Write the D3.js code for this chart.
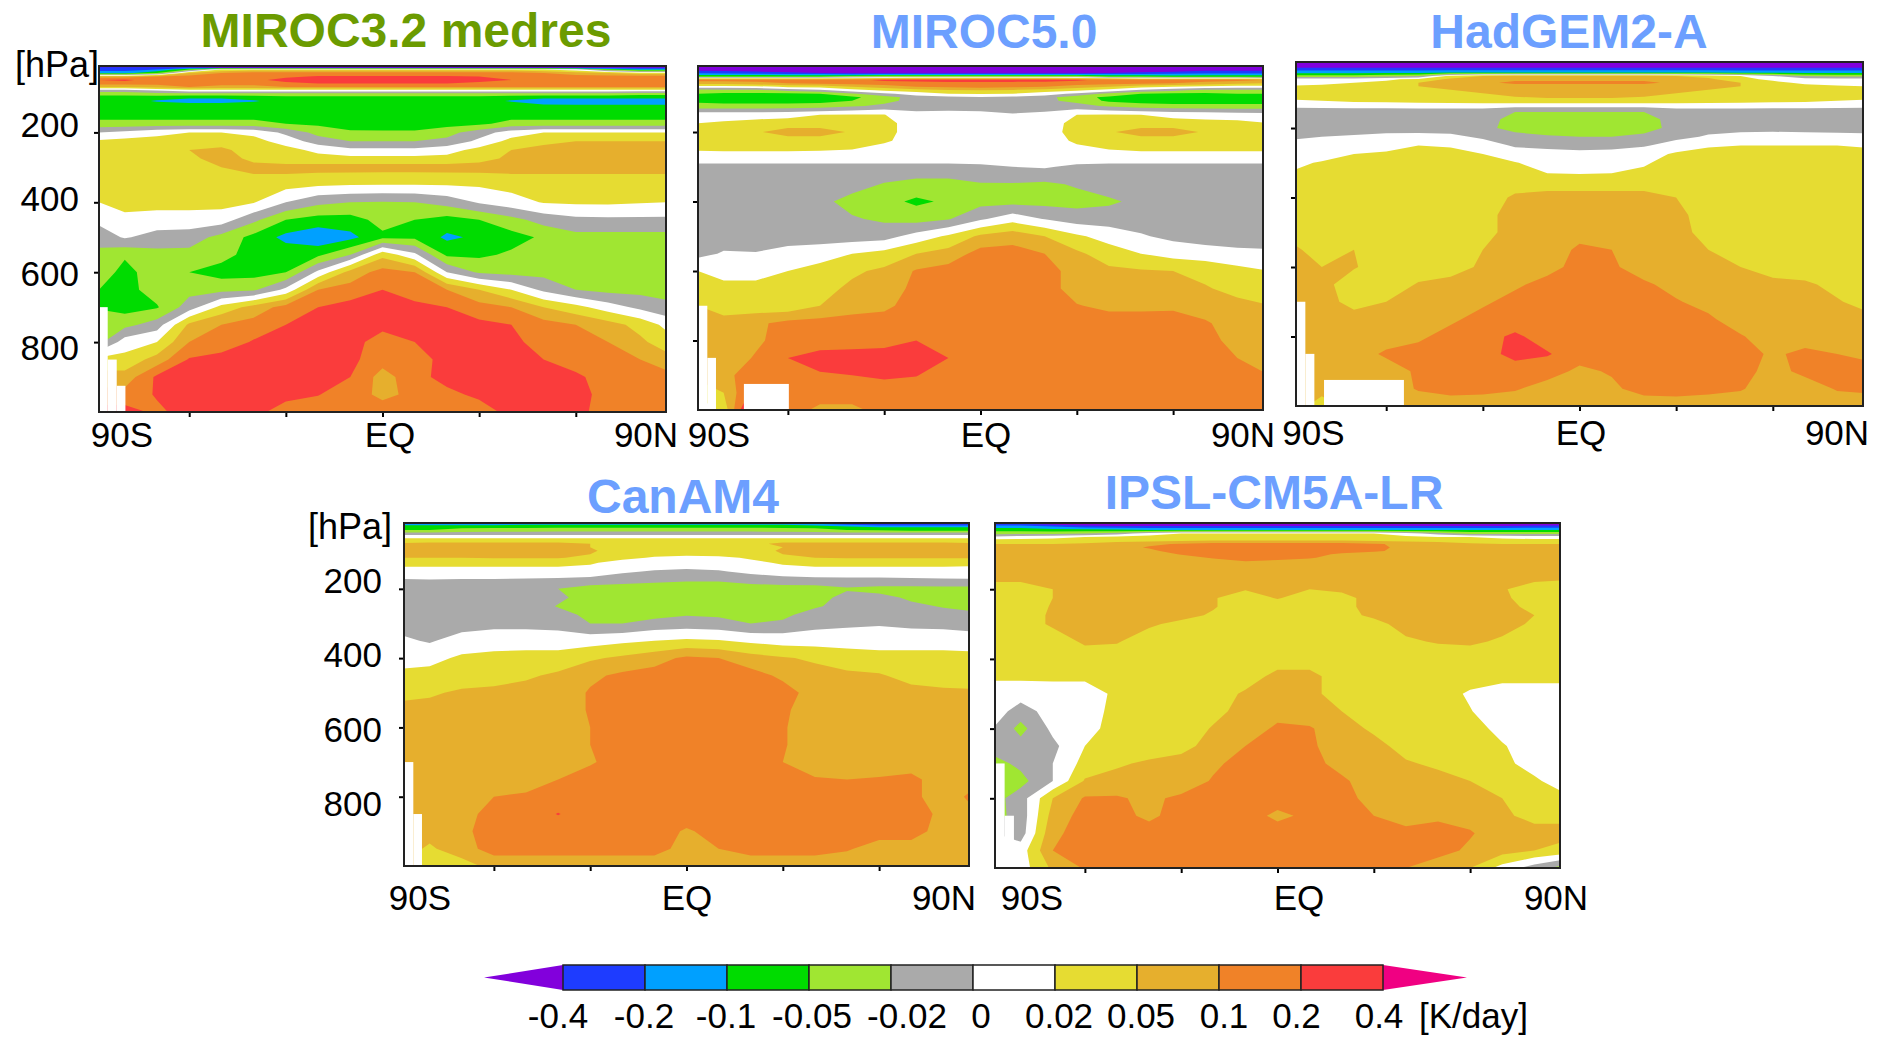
<!DOCTYPE html>
<html>
<head>
<meta charset="utf-8">
<script src="https://cdn.jsdelivr.net/npm/d3@7"></script>
<style>
  body { margin: 0; background: #fff; }
  text { font-family: "Liberation Sans", Arial, sans-serif; fill: #000; }
</style>
</head>
<body>
<div id="chart"></div>
<script>
// Contour levels [K/day] and GrADS colours of the bands between them
const contourLevels = [-0.4, -0.2, -0.1, -0.05, -0.02, 0, 0.02, 0.05, 0.1, 0.2, 0.4];
const bandColors = ["#8200dc", "#1e3cff", "#00a0ff", "#00dc00", "#a0e632", "#aaaaaa",
                    "#ffffff", "#e6dc32", "#e6af2d", "#f08228", "#fa3c3c", "#f00082"];
const levelLabels = ["-0.4", "-0.2", "-0.1", "-0.05", "-0.02", "0", "0.02", "0.05", "0.1", "0.2", "0.4"];

// Grid of the sections
const lats = [-88, -80, -70, -60, -50, -40, -30, -20, -10, 0, 10, 20, 30, 40, 50, 60, 70, 80, 88];
const pressures = [10, 15, 20, 30, 40, 50, 60, 70, 80, 90, 100, 110, 125, 150, 175, 200, 225, 250, 275, 300,
                   350, 400, 450, 500, 550, 600, 650, 700, 750, 800, 850, 900, 950, 1000];
const latTicks = [-60, -30, 0, 30, 60];
const pressureTicks = [200, 400, 600, 800];

// Values, one row per pressure level, K/day
const miroc32 = [
  [-.6,-.6,-.6,-.6,-.6,-.6,-.6,-.6,-.6,-.6,-.6,-.6,-.6,-.6,-.6,-.6,-.6,-.6,-.6],
  [-.3,-.3,-.3,-.3,-.4,-.4,-.4,-.4,-.4,-.4,-.4,-.4,-.4,-.4,-.4,-.4,-.4,-.4,-.4],
  [-.3,-.3,-.2,-.05,.02,.03,.03,.03,.03,.03,.03,.03,.03,.03,.02,.01,-.05,-.14,-.14],
  [-.14,-.14,-.05,.05,.1,.14,.14,.14,.14,.14,.14,.14,.14,.14,.1,.07,.05,.03,.03],
  [.07,.07,.1,.14,.14,.14,.18,.22,.22,.22,.22,.22,.2,.16,.14,.14,.14,.14,.14],
  [.2,.25,.14,.14,.14,.17,.28,.3,.3,.3,.3,.3,.28,.2,.14,.14,.14,.14,.14],
  [.14,.14,.14,.14,.14,.14,.17,.2,.2,.2,.2,.2,.17,.14,.14,.14,.14,.14,.14],
  [.05,.05,.07,.1,.08,.08,.1,.1,.1,.1,.1,.1,.1,.1,.1,.1,.1,.1,.1],
  [-.01,-.01,0,.01,.01,.01,.01,.01,.01,.01,.01,.01,.01,.01,.01,.01,.01,.01,.01],
  [-.04,-.04,-.03,-.03,-.03,-.03,-.03,-.03,-.03,-.03,-.03,-.03,-.03,-.03,-.03,-.03,-.03,-.04,-.04],
  [-.07,-.07,-.08,-.09,-.09,-.08,-.07,-.07,-.07,-.07,-.07,-.07,-.07,-.08,-.09,-.09,-.09,-.09,-.09],
  [-.07,-.08,-.11,-.14,-.14,-.11,-.08,-.07,-.07,-.07,-.07,-.07,-.08,-.11,-.14,-.15,-.15,-.15,-.15],
  [-.07,-.07,-.07,-.07,-.07,-.07,-.07,-.07,-.07,-.07,-.07,-.07,-.07,-.07,-.09,-.09,-.09,-.09,-.09],
  [-.07,-.07,-.07,-.07,-.07,-.07,-.07,-.07,-.07,-.07,-.07,-.07,-.07,-.07,-.07,-.07,-.07,-.07,-.07],
  [-.04,-.04,-.04,-.04,-.04,-.04,-.05,-.06,-.075,-.08,-.08,-.07,-.06,-.04,-.04,-.04,-.04,-.04,-.04],
  [0,.005,.015,.02,.02,.015,-.005,-.03,-.045,-.045,-.045,-.03,-.01,.01,.02,.02,.02,.02,.02],
  [.025,.03,.03,.03,.03,.03,.012,-.01,-.02,-.02,-.02,-.015,.005,.03,.04,.05,.05,.05,.05],
  [.03,.03,.03,.05,.065,.03,.03,.015,.005,.005,.005,.012,.03,.05,.07,.07,.07,.07,.07],
  [.03,.03,.03,.04,.08,.04,.03,.03,.03,.03,.03,.03,.04,.06,.07,.07,.07,.07,.07],
  [.03,.03,.03,.03,.05,.07,.07,.07,.07,.07,.07,.07,.07,.07,.07,.07,.07,.07,.07],
  [.03,.03,.03,.03,.03,.03,.03,.024,.021,.02,.02,.021,.024,.03,.03,.03,.03,.03,.03],
  [.02,.03,.03,.03,.03,.022,0,-.015,-.02,-.022,-.02,-.012,.002,.012,.022,.025,.025,.022,.02],
  [.005,.015,.012,.012,.01,-.015,-.05,-.07,-.07,-.04,-.05,-.07,-.05,-.03,-.012,-.005,-.004,-.004,-.004],
  [-.01,.002,-.008,-.01,-.03,-.065,-.13,-.18,-.13,-.06,-.06,-.12,-.09,-.07,-.045,-.03,-.03,-.03,-.03],
  [-.03,-.045,-.03,-.03,-.04,-.07,-.07,-.06,-.02,.04,.005,-.06,-.06,-.045,-.03,-.03,-.03,-.03,-.03],
  [-.03,-.07,-.03,-.05,-.07,-.07,-.05,.005,.07,.14,.1,0,-.025,-.03,-.03,-.03,-.03,-.045,-.05],
  [-.05,-.07,-.035,-.03,-.03,-.025,.005,.1,.14,.2,.15,.1,.05,.02,-.005,-.02,-.03,-.03,-.03],
  [-.055,-.07,-.055,-.01,.03,.07,.14,.2,.28,.28,.25,.2,.14,.1,.05,.03,.01,-.005,-.015],
  [-.03,-.03,-.01,.06,.1,.14,.2,.28,.28,.28,.28,.28,.25,.2,.14,.1,.07,.04,.015],
  [-.03,.01,.02,.1,.14,.22,.28,.28,.3,.14,.2,.28,.28,.25,.16,.14,.1,.06,.035],
  [.03,.03,.07,.22,.28,.28,.28,.28,.25,.14,.15,.28,.28,.28,.2,.14,.14,.1,.07],
  [.07,.07,.24,.28,.28,.28,.28,.28,.2,.08,.16,.28,.28,.28,.24,.25,.14,.16,.14],
  [.14,.14,.22,.28,.28,.28,.28,.21,.14,.09,.12,.17,.25,.28,.24,.28,.16,.14,.14],
  [.28,.28,.18,.28,.28,.28,.14,.14,.14,.14,.14,.14,.14,.28,.2,.28,.14,.14,.14]
];

const miroc50 = [
  [-.6,-.6,-.6,-.6,-.6,-.6,-.6,-.6,-.6,-.6,-.6,-.6,-.6,-.6,-.6,-.6,-.6,-.6,-.6],
  [-.6,-.6,-.6,-.6,-.6,-.6,-.6,-.6,-.6,-.6,-.6,-.6,-.6,-.6,-.6,-.6,-.6,-.6,-.6],
  [-.5,-.5,-.55,-.6,-.6,-.6,-.6,-.6,-.6,-.6,-.6,-.6,-.6,-.6,-.6,-.6,-.5,-.5,-.5],
  [-.25,-.28,-.3,-.35,-.4,-.45,-.45,-.45,-.45,-.45,-.45,-.45,-.45,-.4,-.35,-.3,-.25,-.25,-.25],
  [-.05,-.05,-.05,-.05,-.05,-.04,-.03,-.03,-.03,-.03,-.03,-.03,-.03,-.05,-.06,-.07,-.07,-.07,-.07],
  [.14,.14,.14,.14,.14,.17,.24,.27,.28,.28,.28,.28,.23,.17,.14,.14,.14,.14,.1],
  [.07,.07,.08,.1,.12,.14,.16,.16,.17,.17,.17,.16,.16,.14,.12,.1,.08,.06,.05],
  [.01,.01,.012,.025,.03,.05,.07,.1,.12,.13,.12,.1,.07,.05,.03,.02,.012,.01,.01],
  [-.035,-.03,-.03,-.015,-.005,.012,.025,.035,.045,.05,.045,.035,.025,.012,-.005,-.015,-.03,-.03,-.03],
  [-.05,-.06,-.06,-.06,-.05,-.025,-.005,.01,.02,.022,.02,.01,-.005,-.03,-.05,-.06,-.06,-.05,-.05],
  [-.07,-.08,-.08,-.08,-.08,-.06,-.035,-.01,-.005,-.002,-.005,-.012,-.04,-.06,-.08,-.08,-.08,-.08,-.08],
  [-.06,-.07,-.07,-.07,-.07,-.05,-.03,-.012,-.006,-.005,-.008,-.015,-.03,-.06,-.075,-.08,-.08,-.08,-.08],
  [-.04,-.04,-.04,-.04,-.035,-.025,-.015,-.008,-.006,-.006,-.006,-.008,-.012,-.025,-.035,-.04,-.04,-.04,-.04],
  [.012,.012,.012,.015,.02,.021,.021,.005,.005,.004,.001,.004,.02,.021,.02,.015,.012,.01,.008],
  [.02,.024,.03,.03,.03,.03,.03,.01,.01,.01,.01,.01,.03,.03,.03,.03,.03,.028,.022],
  [.03,.03,.045,.08,.08,.045,.03,.01,.01,.01,.01,.012,.03,.045,.08,.08,.045,.03,.03],
  [.03,.03,.03,.03,.03,.03,.025,.01,.01,.01,.01,.01,.025,.03,.03,.03,.03,.03,.03],
  [.023,.024,.024,.024,.023,.02,.012,.01,.01,.01,.01,.01,.015,.02,.024,.024,.024,.024,.024],
  [.01,.01,.01,.01,.01,.01,.01,.01,.01,.01,.01,.01,.01,.01,.01,.01,.01,.01,.01],
  [-.006,-.006,-.006,-.006,-.006,-.006,-.006,-.006,-.006,-.004,0,.002,-.004,-.006,-.006,-.006,-.006,-.006,-.006],
  [-.01,-.01,-.01,-.01,-.01,-.012,-.022,-.03,-.03,-.022,-.022,-.025,-.018,-.01,-.01,-.01,-.01,-.01,-.01],
  [-.01,-.01,-.01,-.01,-.015,-.03,-.04,-.06,-.045,-.03,-.03,-.03,-.03,-.025,-.015,-.01,-.01,-.01,-.01],
  [-.01,-.01,-.01,-.01,-.01,-.018,-.025,-.032,-.022,-.003,.012,-.001,-.01,-.01,-.01,-.01,-.01,-.01,-.01],
  [-.01,-.01,-.01,-.01,-.01,-.01,-.008,.008,.025,.06,.08,.05,.025,.012,.002,-.005,-.01,-.01,-.01],
  [-.006,.002,.001,.008,.012,.02,.03,.05,.07,.14,.14,.1,.06,.035,.02,.012,.01,.005,.004],
  [.02,.012,.012,.02,.03,.045,.06,.11,.14,.14,.14,.14,.08,.06,.055,.05,.04,.03,.022],
  [.03,.03,.03,.03,.04,.06,.08,.12,.14,.14,.14,.14,.08,.07,.07,.07,.055,.04,.03],
  [.05,.035,.032,.03,.05,.08,.09,.14,.14,.14,.14,.14,.105,.09,.09,.09,.08,.065,.055],
  [.07,.07,.09,.13,.14,.14,.14,.14,.14,.14,.14,.14,.14,.14,.14,.15,.11,.08,.07],
  [.07,.07,.09,.15,.15,.16,.17,.2,.15,.14,.14,.14,.14,.14,.14,.14,.14,.08,.07],
  [.07,.07,.11,.2,.28,.28,.28,.28,.2,.14,.14,.14,.14,.14,.14,.14,.14,.1,.08],
  [.07,.09,.14,.16,.19,.2,.24,.21,.14,.14,.14,.14,.14,.14,.14,.14,.14,.14,.11],
  [.02,.05,.3,.14,.14,.14,.14,.14,.14,.14,.14,.14,.14,.14,.14,.14,.14,.14,.14],
  [.01,.03,.7,.14,.09,.09,.13,.14,.14,.14,.14,.14,.14,.14,.14,.14,.14,.14,.14]
];

const hadgem2 = [
  [-.6,-.6,-.6,-.6,-.6,-.6,-.6,-.6,-.6,-.6,-.6,-.6,-.6,-.6,-.6,-.6,-.6,-.6,-.6],
  [-.6,-.6,-.6,-.6,-.6,-.6,-.6,-.6,-.6,-.6,-.6,-.6,-.6,-.6,-.6,-.6,-.6,-.6,-.6],
  [-.6,-.6,-.6,-.6,-.6,-.6,-.6,-.6,-.6,-.6,-.6,-.6,-.6,-.6,-.6,-.6,-.6,-.6,-.6],
  [-.3,-.3,-.3,-.3,-.3,-.3,-.3,-.3,-.3,-.3,-.3,-.3,-.3,-.3,-.3,-.3,-.3,-.3,-.3],
  [-.14,-.14,-.14,-.14,-.14,-.12,-.12,-.12,-.12,-.12,-.12,-.12,-.12,-.12,-.14,-.14,-.14,-.14,-.14],
  [-.04,-.04,-.04,-.03,-.02,.03,.05,.06,.06,.06,.06,.06,.05,.04,.02,0,-.02,-.03,-.03],
  [.01,.01,.01,.015,.03,.06,.08,.09,.09,.09,.09,.09,.08,.06,.03,.015,.01,.01,.01],
  [.01,.012,.02,.03,.05,.07,.09,.12,.12,.12,.12,.12,.09,.07,.05,.03,.015,.01,.01],
  [.025,.03,.03,.035,.05,.07,.08,.08,.08,.08,.08,.08,.08,.07,.05,.03,.03,.025,.02],
  [.03,.03,.03,.03,.035,.05,.06,.07,.07,.07,.07,.07,.06,.05,.035,.03,.03,.03,.03],
  [.03,.03,.03,.03,.03,.035,.05,.07,.07,.07,.07,.07,.05,.035,.03,.03,.03,.03,.03],
  [.03,.03,.03,.03,.03,.03,.03,.05,.06,.06,.06,.05,.03,.03,.03,.03,.03,.03,.03],
  [.015,.018,.02,.022,.024,.026,.028,.03,.03,.03,.03,.03,.028,.026,.024,.022,.02,.018,.015],
  [-.008,-.008,-.008,-.008,-.008,-.008,-.008,-.018,-.018,-.018,-.018,-.018,-.008,-.008,-.008,-.008,-.008,-.008,-.008],
  [-.008,-.008,-.008,-.008,-.008,-.008,-.008,-.035,-.035,-.035,-.035,-.035,-.01,-.008,-.008,-.008,-.008,-.008,-.008],
  [-.008,-.008,-.008,-.008,-.008,-.008,-.012,-.035,-.035,-.035,-.035,-.035,-.012,-.006,-.006,-.006,-.006,-.006,-.006],
  [-.002,0,.002,.005,.006,.004,-.003,-.01,-.018,-.02,-.02,-.014,-.005,.002,.006,.008,.006,.005,.004],
  [.005,.005,.006,.012,.02,.018,.008,-.002,-.006,-.008,-.006,-.002,.008,.018,.02,.02,.02,.02,.018],
  [.01,.01,.02,.025,.03,.03,.02,.008,.008,.006,.007,.01,.025,.03,.03,.03,.03,.03,.03],
  [.016,.023,.03,.03,.03,.03,.03,.022,.01,.008,.01,.018,.03,.03,.03,.03,.03,.03,.03],
  [.03,.03,.03,.03,.03,.03,.03,.03,.03,.03,.03,.03,.03,.03,.03,.03,.03,.03,.03],
  [.03,.03,.03,.03,.03,.03,.03,.06,.07,.07,.07,.07,.05,.03,.03,.03,.03,.03,.03],
  [.03,.03,.03,.03,.03,.03,.03,.09,.07,.07,.07,.07,.07,.03,.03,.03,.03,.03,.03],
  [.03,.03,.03,.03,.03,.03,.03,.09,.08,.08,.08,.08,.08,.032,.03,.03,.03,.03,.03],
  [.06,.03,.05,.03,.03,.03,.05,.08,.07,.12,.1,.07,.07,.05,.03,.03,.03,.03,.03],
  [.07,.05,.055,.03,.03,.035,.06,.07,.08,.14,.12,.07,.07,.06,.05,.03,.03,.03,.03],
  [.07,.07,.03,.03,.055,.07,.07,.09,.14,.14,.14,.12,.08,.07,.07,.07,.06,.04,.03],
  [.07,.07,.04,.05,.07,.07,.09,.14,.14,.14,.14,.14,.11,.08,.07,.07,.07,.055,.04],
  [.07,.07,.07,.07,.07,.09,.14,.14,.14,.14,.14,.14,.14,.12,.07,.07,.07,.07,.07],
  [.07,.07,.07,.07,.09,.14,.16,.24,.15,.14,.14,.14,.14,.14,.11,.07,.07,.07,.07],
  [.07,.07,.07,.12,.14,.14,.15,.28,.22,.14,.14,.14,.14,.14,.15,.09,.13,.1,.09],
  [.07,.07,.07,.07,.12,.14,.14,.14,.14,.09,.11,.14,.14,.14,.14,.08,.13,.14,.14],
  [.07,.07,.07,.07,.11,.14,.13,.11,.08,.07,.09,.14,.15,.13,.11,.07,.07,.11,.12],
  [.07,.035,.07,.07,.07,.07,.07,.07,.07,.05,.06,.07,.07,.07,.07,.07,.07,.07,.07]
];

const canam4 = [
  [-.3,-.3,-.3,-.3,-.3,-.3,-.3,-.3,-.3,-.3,-.3,-.3,-.3,-.3,-.4,-.5,-.5,-.5,-.5],
  [-.12,-.12,-.12,-.12,-.1,-.1,-.1,-.1,-.1,-.1,-.1,-.1,-.1,-.14,-.2,-.3,-.3,-.3,-.3],
  [-.07,-.07,-.07,-.07,-.07,-.07,-.07,-.07,-.07,-.07,-.07,-.07,-.07,-.07,-.1,-.12,-.12,-.12,-.12],
  [-.05,-.05,-.04,-.035,-.035,-.03,-.03,-.03,-.03,-.03,-.03,-.03,-.035,-.04,-.05,-.06,-.07,-.07,-.07],
  [-.012,-.012,-.012,-.012,-.012,-.012,-.012,-.012,-.012,-.012,-.012,-.012,-.012,-.012,-.012,-.012,-.012,-.012,-.012],
  [.015,.015,.015,.015,.015,.015,.015,.015,.015,.015,.015,.015,.015,.015,.015,.015,.015,.015,.015],
  [.03,.03,.03,.03,.03,.03,.03,.03,.03,.03,.03,.03,.03,.03,.03,.03,.03,.03,.03],
  [.06,.07,.07,.07,.07,.07,.05,.03,.03,.03,.03,.035,.07,.07,.07,.07,.07,.07,.06],
  [.07,.07,.07,.07,.07,.07,.05,.03,.03,.03,.03,.03,.05,.07,.07,.07,.07,.07,.07],
  [.07,.07,.07,.07,.07,.07,.06,.03,.03,.03,.03,.03,.06,.07,.07,.07,.07,.07,.07],
  [.07,.07,.07,.07,.07,.06,.05,.03,.03,.03,.03,.03,.05,.07,.07,.07,.07,.07,.07],
  [.05,.05,.05,.055,.055,.055,.04,.028,.018,.012,.015,.024,.03,.05,.055,.055,.055,.055,.055],
  [.03,.03,.03,.03,.03,.03,.024,.012,.012,.01,.012,.015,.024,.03,.03,.03,.03,.03,.03],
  [.012,.012,.012,.012,.012,.012,.01,.003,-.002,-.004,-.002,.005,.01,.012,.012,.012,.012,.012,.01],
  [-.002,-.001,-.002,-.002,-.003,-.004,-.006,-.012,-.016,-.018,-.018,-.012,-.008,-.006,-.005,-.005,-.004,-.003,-.002],
  [-.008,-.008,-.008,-.008,-.008,-.02,-.035,-.035,-.035,-.035,-.035,-.035,-.035,-.035,-.024,-.03,-.03,-.03,-.03],
  [-.008,-.008,-.008,-.008,-.008,-.015,-.035,-.035,-.035,-.035,-.035,-.035,-.035,-.035,-.012,-.014,-.025,-.03,-.03],
  [-.008,-.008,-.008,-.008,-.008,-.022,-.035,-.035,-.035,-.035,-.035,-.035,-.035,-.025,-.01,-.01,-.016,-.022,-.025],
  [-.008,-.008,-.008,-.008,-.008,-.012,-.028,-.035,-.03,-.022,-.025,-.035,-.028,-.01,-.008,-.008,-.01,-.014,-.017],
  [-.008,-.008,-.008,-.005,-.006,-.008,-.02,-.02,-.012,-.01,-.012,-.02,-.016,-.007,-.004,-.002,-.005,-.006,-.008],
  [.003,-.002,.008,.01,.012,.012,.012,.016,.02,.025,.022,.016,.012,.012,.012,.012,.012,.012,.01],
  [.01,.014,.025,.03,.03,.03,.045,.06,.08,.12,.1,.07,.055,.045,.035,.03,.03,.03,.03],
  [.03,.03,.03,.03,.045,.06,.09,.12,.14,.14,.14,.14,.09,.07,.06,.055,.04,.035,.03],
  [.04,.045,.06,.07,.07,.07,.11,.14,.14,.14,.14,.14,.14,.08,.07,.07,.065,.06,.06],
  [.07,.07,.07,.07,.07,.07,.11,.14,.14,.14,.14,.14,.12,.07,.07,.07,.07,.07,.07],
  [.1,.07,.07,.07,.07,.07,.1,.14,.14,.14,.14,.14,.11,.07,.07,.07,.07,.07,.07],
  [.07,.07,.07,.07,.07,.07,.1,.14,.14,.14,.14,.14,.11,.07,.07,.07,.07,.07,.07],
  [.07,.07,.07,.07,.07,.07,.095,.14,.14,.14,.14,.14,.1,.07,.07,.07,.07,.07,.07],
  [.07,.07,.07,.07,.07,.1,.14,.14,.14,.14,.14,.14,.14,.11,.1,.11,.13,.07,.085],
  [.07,.07,.07,.1,.12,.14,.14,.14,.14,.14,.14,.14,.14,.14,.14,.14,.12,.08,.11],
  [.07,.07,.08,.14,.14,.21,.14,.14,.14,.14,.14,.14,.14,.14,.14,.14,.14,.09,.09],
  [.07,.07,.09,.14,.14,.14,.14,.14,.14,.095,.13,.14,.14,.14,.14,.14,.12,.09,.07],
  [.07,.045,.08,.14,.14,.14,.14,.14,.14,.08,.1,.14,.14,.14,.11,.08,.09,.09,.07],
  [.07,.03,.035,.07,.07,.07,.07,.07,.07,.07,.07,.07,.07,.07,.07,.07,.07,.07,.07]
];

const ipsl = [
  [-.4,-.5,-.5,-.5,-.6,-.6,-.6,-.6,-.6,-.6,-.6,-.6,-.6,-.6,-.6,-.6,-.6,-.6,-.6],
  [-.3,-.3,-.4,-.5,-.5,-.5,-.5,-.5,-.5,-.5,-.5,-.5,-.5,-.5,-.5,-.5,-.5,-.5,-.5],
  [-.14,-.14,-.2,-.3,-.35,-.35,-.35,-.35,-.35,-.35,-.35,-.35,-.35,-.35,-.35,-.35,-.35,-.3,-.3],
  [-.07,-.07,-.08,-.08,-.09,-.1,-.1,-.1,-.1,-.1,-.1,-.1,-.1,-.1,-.1,-.1,-.1,-.1,-.1],
  [-.03,-.03,-.03,-.02,-.01,.01,.02,.02,.02,.02,.02,.02,.02,.01,-.01,-.03,-.03,-.03,-.03],
  [.005,.01,.015,.02,.025,.03,.03,.03,.03,.03,.03,.03,.03,.025,.02,.02,.015,.01,.01],
  [.03,.03,.03,.035,.04,.04,.045,.05,.05,.05,.05,.05,.045,.04,.04,.035,.03,.03,.03],
  [.05,.05,.05,.055,.07,.09,.11,.13,.14,.14,.14,.14,.11,.09,.07,.055,.05,.05,.05],
  [.07,.07,.07,.07,.08,.11,.14,.14,.14,.14,.14,.14,.12,.09,.07,.07,.07,.07,.07],
  [.07,.07,.07,.07,.075,.09,.14,.14,.14,.14,.14,.14,.12,.08,.07,.07,.07,.07,.07],
  [.07,.07,.07,.07,.07,.08,.105,.14,.14,.14,.14,.09,.07,.07,.07,.07,.07,.07,.07],
  [.07,.07,.07,.07,.07,.07,.08,.11,.14,.14,.11,.08,.07,.07,.07,.07,.07,.07,.07],
  [.07,.07,.07,.07,.07,.07,.07,.07,.09,.07,.07,.07,.07,.07,.07,.07,.07,.07,.07],
  [.06,.06,.07,.07,.07,.07,.07,.07,.07,.07,.07,.07,.07,.07,.07,.07,.07,.06,.06],
  [.055,.055,.06,.06,.06,.06,.06,.06,.06,.06,.06,.06,.06,.06,.06,.06,.06,.055,.05],
  [.035,.035,.05,.07,.07,.07,.07,.06,.055,.07,.05,.06,.07,.07,.07,.07,.055,.035,.03],
  [.03,.03,.05,.07,.07,.07,.07,.055,.03,.055,.03,.04,.07,.07,.07,.07,.06,.035,.03],
  [.03,.03,.055,.07,.07,.07,.07,.055,.03,.03,.03,.04,.07,.07,.07,.07,.07,.04,.03],
  [.03,.03,.06,.07,.07,.07,.07,.045,.03,.03,.03,.04,.06,.07,.07,.07,.07,.05,.03],
  [.03,.03,.06,.07,.07,.06,.04,.03,.03,.03,.03,.03,.04,.07,.07,.07,.07,.045,.03],
  [.03,.03,.03,.06,.055,.03,.03,.03,.03,.03,.03,.03,.03,.045,.055,.06,.045,.03,.03],
  [.03,.03,.03,.03,.03,.03,.03,.03,.03,.03,.03,.03,.03,.03,.03,.03,.03,.03,.03],
  [.025,.025,.025,.025,.03,.03,.03,.03,.03,.07,.07,.03,.03,.03,.03,.03,.028,.028,.028],
  [.01,.01,.012,.012,.025,.03,.03,.03,.06,.07,.07,.03,.03,.03,.03,.018,.012,.012,.012],
  [.01,-.01,.01,.01,.03,.03,.03,.04,.07,.08,.07,.05,.03,.03,.03,.021,.012,.012,.012],
  [-.002,-.03,.005,.014,.03,.03,.03,.055,.07,.12,.11,.07,.045,.03,.03,.03,.015,.012,.012],
  [-.01,-.012,-.005,.02,.03,.03,.04,.07,.1,.14,.12,.07,.065,.04,.03,.03,.022,.012,.012],
  [-.03,-.015,0,.03,.045,.06,.07,.09,.14,.14,.14,.08,.07,.055,.045,.03,.028,.012,.012],
  [-.03,-.03,0,.055,.07,.07,.07,.11,.14,.14,.14,.12,.07,.07,.065,.05,.03,.025,.012],
  [-.03,-.01,.05,.11,.11,.09,.12,.14,.14,.14,.14,.14,.08,.07,.07,.07,.05,.03,.03],
  [-.03,-.012,.07,.14,.13,.09,.14,.14,.14,.09,.12,.14,.1,.07,.09,.08,.06,.04,.04],
  [0,-.01,.09,.14,.14,.14,.14,.14,.14,.14,.14,.14,.14,.14,.14,.11,.07,.07,.07],
  [.01,.01,.1,.14,.14,.14,.14,.14,.14,.14,.14,.14,.14,.14,.14,.09,.07,.05,.04],
  [.01,.01,.06,.11,.12,.14,.14,.14,.14,.14,.14,.14,.14,.1,.07,.05,.012,-.01,-.03]
];

// Below-ground blocks without data: [lat from, lat to, pressure from]
const missingMiroc32 = [[-88, -85.3, 700], [-85.3, -82.5, 850], [-82.5, -79.8, 925]];
const missingMiroc50 = [[-88, -85.1, 700], [-85.1, -82.4, 850], [-73.7, -59.7, 925]];
const missingHadgem2 = [[-88, -85.1, 700], [-85.1, -82.3, 850], [-79.3, -54.5, 925]];
const missingCanam4 = [[-88, -85.1, 700], [-85.1, -82.4, 850]];
const missingIpsl = [[-88, -85, 700], [-85, -82.1, 850], [-82.1, -78, 925]];

// Panel layout in page pixels
const panels = [
  { name: "MIROC3.2 medres", color: "#6b9b00", size: 48, values: miroc32, missing: missingMiroc32,
    x0: 99, x1: 666, y0: 66, y1: 412, titleX: 406, titleY: 47, labelY: 447, labelX: [122, 390, 646], yLabels: [79, 137, 360, 77, 15] },
  { name: "MIROC5.0", color: "#6c9fff", size: 48, values: miroc50, missing: missingMiroc50,
    x0: 698, x1: 1263, y0: 66, y1: 410, titleX: 984, titleY: 48, labelY: 447, labelX: [719, 986, 1243] },
  { name: "HadGEM2-A", color: "#6c9fff", size: 48, values: hadgem2, missing: missingHadgem2,
    x0: 1296, x1: 1863, y0: 62, y1: 406, titleX: 1569, titleY: 48, labelY: 445, labelX: [1313.5, 1581, 1837] },
  { name: "CanAM4", color: "#6c9fff", size: 48, values: canam4, missing: missingCanam4,
    x0: 404, x1: 969, y0: 523, y1: 866, titleX: 683, titleY: 513, labelY: 910, labelX: [420, 687, 944], yLabels: [382, 593, 816, 539, 308] },
  { name: "IPSL-CM5A-LR", color: "#6c9fff", size: 48, values: ipsl, missing: missingIpsl,
    x0: 995, x1: 1560, y0: 523, y1: 868, titleX: 1274, titleY: 509, labelY: 910, labelX: [1032, 1299, 1556] }
];

const svg = d3.select("#chart").append("svg")
    .attr("width", 1887)
    .attr("height", 1039);

const FONT = 35;

// Values are contoured on the band index so every band spreads evenly between grid points
const bandIndex = d3.scaleLinear().domain(contourLevels).range(d3.range(contourLevels.length));

function drawPanel(panel, i) {
    panel.values.forEach(row => {
        if (row.length !== lats.length) throw new Error(panel.name + " row length " + row.length);
    });
    if (panel.values.length !== pressures.length) throw new Error(panel.name + " rows " + panel.values.length);

    const x = d3.scaleLinear().domain([-88, 88]).range([panel.x0, panel.x1]);
    const y = d3.scaleLinear().domain([10, 1000]).range([panel.y0, panel.y1]);

    // grid index -> lat / pressure, contour points sit half a cell off
    const latOfCol = d3.scaleLinear().domain(d3.range(lats.length)).range(lats).clamp(true);
    const presOfRow = d3.scaleLinear().domain(d3.range(pressures.length)).range(pressures).clamp(true);
    const path = d3.geoPath(d3.geoTransform({
        point(cx, cy) {
            this.stream.point(x(latOfCol(cx - 0.5)), y(presOfRow(cy - 0.5)));
        }
    }));

    const contours = d3.contours()
        .size([lats.length, pressures.length])
        .thresholds(d3.range(contourLevels.length));
    const grid = panel.values.flat().map(v => bandIndex(v));

    const g = svg.append("g");

    // everything under the lowest level
    g.append("rect")
        .attr("x", x(-88))
        .attr("y", y(10))
        .attr("width", x(88) - x(-88))
        .attr("height", y(1000) - y(10))
        .attr("fill", bandColors[0]);

    g.selectAll("path.band")
        .data(contours(grid))
        .join("path")
        .attr("class", "band")
        .attr("d", path)
        .attr("fill", (d, k) => bandColors[k + 1]);

    g.selectAll("rect.missing")
        .data(panel.missing)
        .join("rect")
        .attr("class", "missing")
        .attr("x", d => x(d[0]))
        .attr("y", d => y(d[2]))
        .attr("width", d => x(d[1]) - x(d[0]))
        .attr("height", d => y(1000) - y(d[2]))
        .attr("fill", "#fff");

    // Axes
    const bottom = d3.axisBottom(x).tickValues(latTicks).tickSize(5).tickSizeOuter(0).tickFormat("");
    const left = d3.axisLeft(y).tickValues(pressureTicks).tickSize(5).tickSizeOuter(0).tickFormat("");
    g.append("g").attr("transform", `translate(0,${panel.y1})`).call(bottom)
        .selectAll("line").attr("stroke-width", 2);
    g.append("g").attr("transform", `translate(${panel.x0},0)`).call(left)
        .selectAll("line").attr("stroke-width", 2);

    g.append("rect")
        .attr("x", panel.x0)
        .attr("y", panel.y0)
        .attr("width", panel.x1 - panel.x0)
        .attr("height", panel.y1 - panel.y0)
        .attr("fill", "none")
        .attr("stroke", "#222")
        .attr("stroke-width", 2);

    // Title
    svg.append("text")
        .attr("x", panel.titleX)
        .attr("y", panel.titleY)
        .attr("text-anchor", "middle")
        .style("font-size", panel.size + "px")
        .style("font-weight", "bold")
        .style("fill", panel.color)
        .text(panel.name);

    // Latitude labels
    ["90S", "EQ", "90N"].forEach((label, k) => {
        svg.append("text")
            .attr("x", panel.labelX[k])
            .attr("y", panel.labelY)
            .attr("text-anchor", "middle")
            .style("font-size", FONT + "px")
            .text(label);
    });

    // Pressure labels only on the left panels of each row
    if (panel.yLabels) {
        const [right, yTop, yBottom, unitY, unitX] = panel.yLabels;
        const labelScale = d3.scaleLinear().domain([200, 800]).range([yTop, yBottom]);
        pressureTicks.forEach(p => {
            svg.append("text")
                .attr("x", right)
                .attr("y", labelScale(p))
                .attr("text-anchor", "end")
                .style("font-size", FONT + "px")
                .text(p);
        });
        svg.append("text")
            .attr("x", unitX)
            .attr("y", unitY)
            .style("font-size", "36px")
            .text("[hPa]");
    }
}

panels.forEach(drawPanel);

// Colour bar
function drawColorbar() {
    const barLeft = 563, barRight = 1383, barTop = 965, barBottom = 990;
    const tipLeft = 484, tipRight = 1467;
    const barX = d3.scaleLinear().domain([0, 10]).range([barLeft, barRight]);
    const mid = (barTop + barBottom) / 2;
    const labelShift = [-5, -1, -1, 3, 16, 8, 4, 4, 5, -4.5, -4];

    const bar = svg.append("g");
    const inner = bandColors.slice(1, 11);

    bar.append("path")
        .attr("d", `M${barLeft},${barTop}L${tipLeft},${mid}L${barLeft},${barBottom}Z`)
        .attr("fill", bandColors[0]);
    bar.append("path")
        .attr("d", `M${barRight},${barTop}L${tipRight},${mid}L${barRight},${barBottom}Z`)
        .attr("fill", bandColors[11]);

    bar.selectAll("rect")
        .data(inner)
        .join("rect")
        .attr("x", (d, k) => barX(k))
        .attr("y", barTop)
        .attr("width", (d, k) => barX(k + 1) - barX(k))
        .attr("height", barBottom - barTop)
        .attr("fill", d => d)
        .attr("stroke", "#222")
        .attr("stroke-width", 1.5);

    bar.selectAll("text")
        .data(levelLabels)
        .join("text")
        .attr("x", (d, k) => barX(k) + labelShift[k])
        .attr("y", 1028)
        .attr("text-anchor", "middle")
        .style("font-size", FONT + "px")
        .text(d => d);

    svg.append("text")
        .attr("x", 1419)
        .attr("y", 1028)
        .style("font-size", FONT + "px")
        .text("[K/day]");
}

drawColorbar();
</script>
</body>
</html>
